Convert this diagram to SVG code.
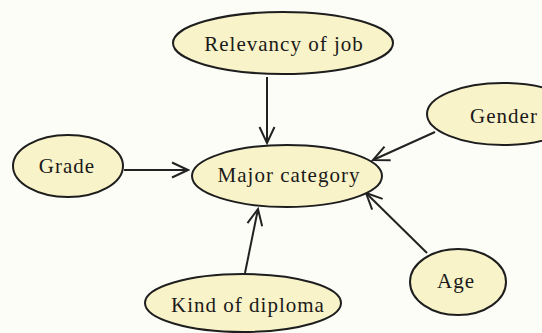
<svg xmlns="http://www.w3.org/2000/svg" width="542" height="333" viewBox="0 0 542 333">
  <defs>
    <style>
      .node ellipse { fill: #f9f3c9; stroke: #1e1e1e; stroke-width: 2; }
      .node text { font-family: "Liberation Serif", "Times New Roman", serif; font-size: 21px; letter-spacing: 1px; fill: #1a1a1a; text-anchor: middle; }
      .edge { stroke: #222; stroke-width: 2; fill: none; marker-end: url(#arrow); }
    </style>
    <marker id="arrow" markerUnits="userSpaceOnUse" viewBox="-18 -10 20 20" refX="0" refY="0" markerWidth="20" markerHeight="20" orient="auto">
      <path d="M-16,-7.5 L0,0 L-16,7.5" fill="none" stroke="#222" stroke-width="2"/>
    </marker>
  </defs>
  <rect x="0" y="0" width="542" height="333" fill="#fdfdf8"/>
  <g id="connectors">
    <line class="edge" x1="267" y1="77" x2="267" y2="143"/>
    <line class="edge" x1="124" y1="170" x2="188" y2="170"/>
    <line class="edge" x1="435" y1="132" x2="373" y2="160"/>
    <line class="edge" x1="427" y1="253" x2="366" y2="193"/>
    <line class="edge" x1="245" y1="273" x2="258" y2="209"/>
  </g>
  <g id="node-relevancy" class="node">
    <ellipse cx="283" cy="43" rx="110" ry="31"/>
    <text x="284" y="51">Relevancy of job</text>
  </g>
  <g id="node-major" class="node">
    <ellipse cx="287" cy="176" rx="95" ry="31"/>
    <text x="289" y="182">Major category</text>
  </g>
  <g id="node-grade" class="node">
    <ellipse cx="68" cy="166" rx="55" ry="31"/>
    <text x="67" y="173">Grade</text>
  </g>
  <g id="node-gender" class="node">
    <ellipse cx="503" cy="114" rx="76" ry="31"/>
    <text x="504" y="123">Gender</text>
  </g>
  <g id="node-age" class="node">
    <ellipse cx="458" cy="282" rx="48" ry="33"/>
    <text x="456" y="288">Age</text>
  </g>
  <g id="node-diploma" class="node">
    <ellipse cx="243" cy="303" rx="98" ry="29"/>
    <text x="248" y="312">Kind of diploma</text>
  </g>
</svg>
